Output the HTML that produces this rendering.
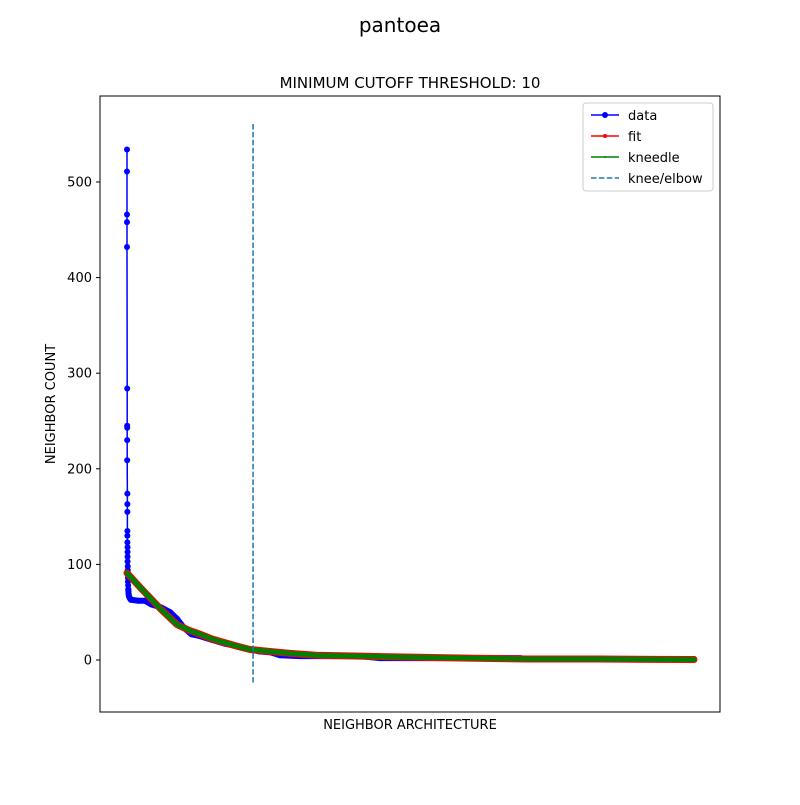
<!DOCTYPE html>
<html><head><meta charset="utf-8"><style>
body{margin:0;background:#fff;font-family:"Liberation Sans",DejaVu Sans,sans-serif}
svg text{font-family:"DejaVu Sans","Liberation Sans",sans-serif}
</style></head><body>
<svg id="chart" width="800" height="800">
<rect width="800" height="800" fill="#fff"/>
<text x="400" y="32" text-anchor="middle" font-size="20">pantoea</text>
<text x="410" y="88" text-anchor="middle" font-size="15">MINIMUM CUTOFF THRESHOLD: 10</text>
<g id="plot"></g>
<rect x="100" y="96" width="620" height="616" fill="none" stroke="#000" stroke-width="1"/>
<text x="410" y="729" text-anchor="middle" font-size="13">NEIGHBOR ARCHITECTURE</text>
<text transform="translate(55,404) rotate(-90)" text-anchor="middle" font-size="13">NEIGHBOR COUNT</text>
<g id="yticks"></g>
<g>
<rect x="583" y="103" width="130" height="88" rx="3" fill="#fff" fill-opacity="0.8" stroke="#ccc"/>
<g><line x1="591" y1="115" x2="619" y2="115" stroke="#0000ff" stroke-width="1.5"/><circle cx="605" cy="115" r="3" fill="#0000ff"/><text x="628" y="120" font-size="13">data</text></g>
<g><line x1="591" y1="136" x2="619" y2="136" stroke="#ff0000" stroke-width="1.5"/><circle cx="605" cy="136" r="2" fill="#ff0000"/><text x="628" y="141" font-size="13">fit</text></g>
<g><line x1="591" y1="157" x2="619" y2="157" stroke="#008000" stroke-width="1.5"/><circle cx="605" cy="157" r="1" fill="#008000"/><text x="628" y="162" font-size="13">kneedle</text></g>
<g><line x1="591" y1="178" x2="619" y2="178" stroke="#1f77b4" stroke-width="1.5" stroke-dasharray="5.5,2.4"/><text x="628" y="183" font-size="13">knee/elbow</text></g>
</g>
</svg>
<script>
const dataX=[0,0,0,0,0,1,1,1,1,1,2,2,2,2,2,2,3,3,3,3,4,4,4,5,5,6,7,8,10,14,20,60,95,130,180,228,265,300,340,386,450,519,600,651,700,760,810,915,1000,1100,1233,1339,1500,1700,2079,2116,2500,2800,3000];
const dataY=[534,511,466,458,432,284,245,243,230,209,174,163,155,135,130,123,118,113,108,103,98,94,90,86,82,78,74,70,67,65,63,62,62,58,55,50,43,34,27,25,21,17,14,11,9,8,5,4,4,4,4,2,2,2,2,1,1,1,1];
const fitX=[0,60,122,180,265,330,386,450,519,590,651,750,862,1000,1233,1500,1800,2116,2500,2800,3000];
const fitY=[91,78,65,53,37,31,27,22,18,14,11,9,7,5,4,3,2,1,1,0.6,0.5];
const kneeX=667;
const yTicks=[0,100,200,300,400,500];
const X0=127,X1=694,XMAX=3000;
const sx=v=>X0+v*(X1-X0)/XMAX;
const sy=v=>660-v*0.956;
const NS="http://www.w3.org/2000/svg";
const plot=document.getElementById('plot');
function mk(t,a,p){const e=document.createElementNS(NS,t);for(const k in a)e.setAttribute(k,a[k]);(p||plot).appendChild(e);return e;}
function series(xs,ys,color,r,band,minBandX,name){
  const g=mk('g',{});
  
  
  const all=xs.map((x,i)=>[x,ys[i]]);
  const bandPts=all.filter(p=>p[0]>=minBandX).map(p=>sx(p[0])+','+sy(p[1])).join(' ');
  const b=mk('polyline',{points:bandPts,fill:'none',stroke:color,'stroke-width':band,'stroke-linejoin':'round','stroke-linecap':'round'},g);
  
  
  const l=mk('polyline',{points:all.map(p=>sx(p[0])+','+sy(p[1])).join(' '),fill:'none',stroke:color,'stroke-width':1.5},g);
  
  
  all.forEach(p=>{const c=mk('circle',{cx:sx(p[0]),cy:sy(p[1]),r:r,fill:color},g);
    
    });
}
series(dataX,dataY,'#0000ff',3,6,7,'data-series');
series(fitX,fitY,'#ff0000',2.2,7,0,'fit-series');
series(fitX,fitY,'#008000',1,5,0,'kneedle-series');
const kl=mk('line',{x1:sx(kneeX),x2:sx(kneeX),y1:124,y2:684,stroke:'#1f77b4','stroke-width':1.5,'stroke-dasharray':'5.5,2.4'});


const yt=document.getElementById('yticks');
yTicks.forEach(v=>{
  const t=mk('line',{x1:96,x2:100,y1:sy(v),y2:sy(v),stroke:'#000'},yt);
  
  
  const tx=mk('text',{x:92,y:sy(v)+4.5,'text-anchor':'end','font-size':13},yt);
  tx.textContent=v;
  
  
});
</script>
</body></html>
